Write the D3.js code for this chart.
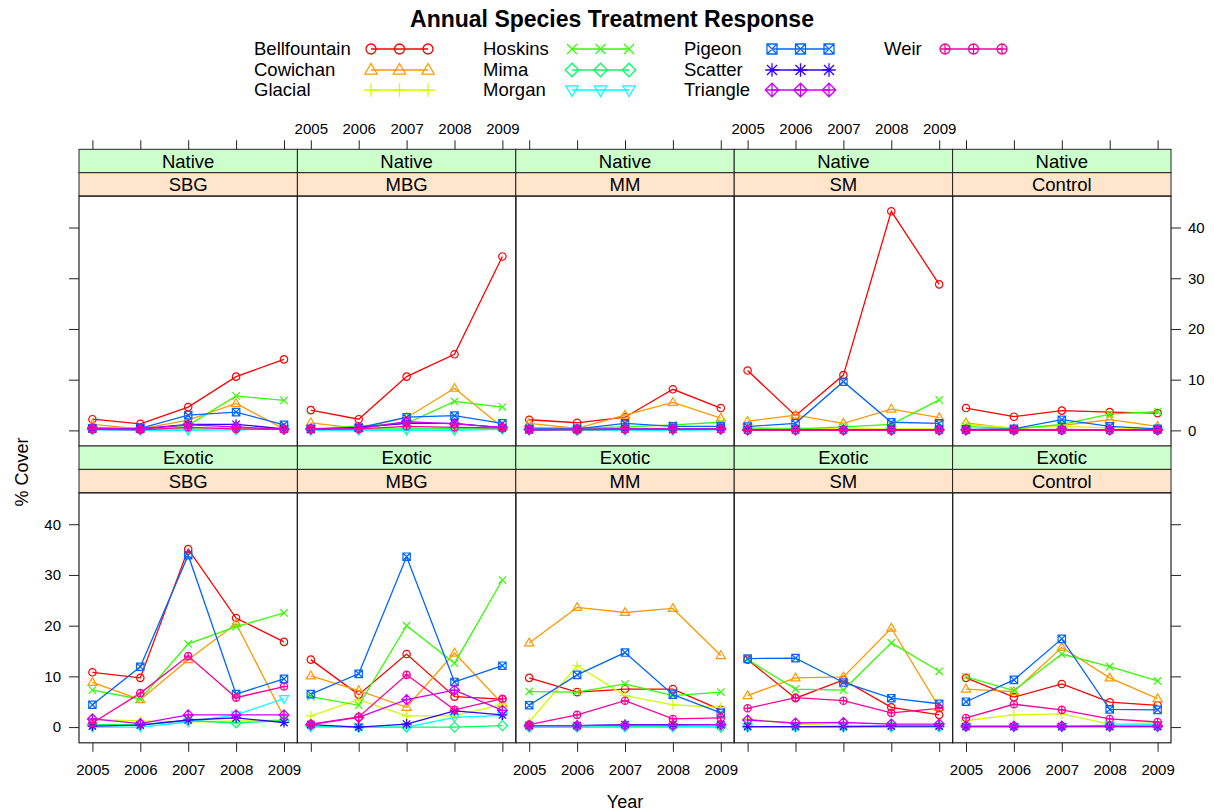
<!DOCTYPE html>
<html><head><meta charset="utf-8">
<script src="https://cdn.jsdelivr.net/npm/d3@7"></script>
<style>body{margin:0;background:#fff}svg{display:block}text{font-family:"Liberation Sans",Arial,sans-serif;fill:#000}</style>
</head><body>
<script>
const years = [2005, 2006, 2007, 2008, 2009];
const sites = ["Bellfountain","Cowichan","Glacial","Hoskins","Mima","Morgan","Pigeon","Scatter","Triangle","Weir"];
const treatments = ["SBG","MBG","MM","SM","Control"];
const origins = ["Native","Exotic"];
const yTicks = [0, 10, 20, 30, 40];
const colors = ["#FF0000","#FF9900","#CCFF00","#33FF00","#00FF66","#00FFFF","#0066FF","#3300FF","#CC00FF","#FF0099"];
const shapes = ["circle","triUp","plus","cross","diamond","triDown","squareX","asterisk","diamondPlus","circlePlus"];

// rows in site order, values by year
const native_SBG = [
 [2.2,1.3,4.6,10.6,14.0],[1.2,0.3,2.0,5.3,0.3],[0.6,0.4,0.6,0.5,0.3],[0.5,0.3,1.0,6.8,5.9],[0.2,0.2,0.3,0.2,0.3],
 [0.1,0.0,0.0,0.1,0.4],[0.4,0.4,3.0,3.6,1.1],[0.3,0.3,1.2,1.2,0.3],[0.4,0.3,1.1,0.7,0.2],[0.2,0.1,0.6,0.3,0.2]];
const native_MBG = [
 [4.0,2.2,10.6,15.0,34.3],[1.5,0.4,2.5,8.3,0.6],[0.3,0.3,0.5,0.4,0.3],[0.3,0.9,1.4,5.7,4.6],[0.2,0.2,0.3,0.3,0.3],
 [0.0,0.0,0.0,0.0,0.2],[0.3,0.5,2.6,2.9,1.4],[0.2,0.6,1.4,1.4,0.5],[0.3,0.4,1.7,1.3,0.6],[0.2,0.3,0.8,0.6,0.5]];
const native_MM = [
 [2.1,1.5,2.6,8.1,4.4],[1.4,0.4,3.0,5.5,2.4],[0.6,0.4,0.5,0.4,0.4],[0.5,0.5,0.7,1.1,1.6],[0.2,0.0,0.2,0.2,0.2],
 [0.0,0.1,0.0,0.0,0.1],[0.3,0.3,1.4,0.8,0.8],[0.1,0.2,0.3,0.2,0.3],[0.2,0.2,0.3,0.3,0.3],[0.1,0.1,0.2,0.2,0.2]];
const native_SM = [
 [11.8,2.9,10.9,43.2,28.8],[1.8,3.0,1.4,4.2,2.5],[0.6,0.4,0.3,0.3,0.3],[0.3,0.3,0.7,1.2,6.0],[0.1,0.1,0.1,0.1,0.1],
 [0.0,0.0,0.0,0.0,0.0],[0.75,1.4,9.6,1.6,1.4],[0.1,0.1,0.1,0.1,0.1],[0.1,0.1,0.1,0.1,0.1],[0.0,0.0,0.0,0.0,0.0]];
const native_Control = [
 [4.4,2.7,3.9,3.6,3.4],[1.5,0.3,1.0,2.1,0.8],[1.2,0.5,0.8,0.5,0.3],[0.8,0.3,1.2,3.2,3.7],[0.1,0.1,0.1,0.1,0.1],
 [0.0,0.0,0.0,0.0,0.0],[0.2,0.3,2.1,0.8,0.3],[0.1,0.1,0.1,0.1,0.1],[0.1,0.1,0.2,0.1,0.1],[0.0,0.0,0.0,0.0,0.0]];
const exotic_SBG = [
 [10.8,9.7,35.1,21.5,16.8],[8.8,5.4,13.3,20.4,2.0],[1.5,1.2,1.0,1.2,1.4],[7.3,5.5,16.4,19.8,22.5],[0.5,0.5,1.3,0.8,1.3],
 [0.0,0.0,1.0,2.4,5.6],[4.4,11.9,33.9,6.5,9.5],[0.2,0.4,1.4,1.8,0.9],[1.6,0.7,2.4,2.4,2.4],[0.8,6.7,14.0,5.8,8.0]];
const exotic_MBG = [
 [13.3,6.4,14.4,6.0,5.5],[10.1,7.2,3.9,14.6,4.6],[2.2,5.4,2.2,2.2,4.5],[6.0,4.3,20.0,12.6,29.0],[0.2,0.0,0.0,0.0,0.3],
 [0.0,0.0,0.0,1.9,2.3],[6.5,10.5,33.6,8.9,12.1],[0.5,0.0,0.6,3.2,2.4],[0.5,1.9,5.4,7.3,3.3],[0.6,2.0,10.3,3.4,5.6]];
const exotic_MM = [
 [9.7,6.9,7.5,7.5,3.4],[16.6,23.6,22.6,23.4,14.1],[1.0,12.1,6.2,4.4,3.9],[7.0,6.9,8.5,6.2,6.9],[0.0,0.0,0.1,0.1,0.0],
 [0.0,0.0,0.0,0.0,0.2],[4.3,10.3,14.7,6.4,2.8],[0.3,0.3,0.5,0.5,0.5],[0.3,0.3,0.4,0.4,0.5],[0.5,2.4,5.2,1.6,1.8]];
const exotic_SM = [
 [13.3,5.7,9.3,3.9,2.4],[6.2,9.7,9.9,19.5,3.9],[1.6,0.6,0.3,0.3,0.3],[13.3,7.5,7.3,16.6,11.0],[0.1,0.1,0.1,0.1,0.1],
 [0.0,0.0,0.0,0.0,0.0],[13.5,13.6,8.8,5.7,4.6],[0.1,0.1,0.1,0.2,0.2],[1.4,0.8,0.9,0.6,0.6],[3.7,5.8,5.2,2.8,3.7]];
const exotic_Control = [
 [9.7,5.9,8.5,4.9,4.3],[7.5,7.0,15.7,9.7,5.6],[1.3,2.4,2.6,0.6,0.8],[9.9,7.2,14.4,11.9,9.1],[0.1,0.1,0.1,0.1,0.1],
 [0.1,0.1,0.1,0.4,0.5],[5.0,9.3,17.4,3.5,3.4],[0.1,0.1,0.1,0.1,0.1],[0.2,0.2,0.2,0.2,0.2],[1.8,4.5,3.4,1.6,1.0]];

const panelData = {
  Native: [native_SBG, native_MBG, native_MM, native_SM, native_Control],
  Exotic: [exotic_SBG, exotic_MBG, exotic_MM, exotic_SM, exotic_Control]
};

const W = 1214, H = 812;
const svg = d3.select("body").append("svg").attr("width", W).attr("height", H);

const L = 79, R = 1171, colW = (R - L) / 5;
const stripH = 23.4, panelH = 250;
const rowTop = [149.3, 446];  // top of strips
const xDom = [2004.72, 2009.28], yDom = [-3.1, 46.2];

function symbolPath(shape, r) {
  const p = d3.path();
  const circ = (rr) => { p.moveTo(rr, 0); p.arc(0, 0, rr, 0, 2 * Math.PI); };
  const seg = (x1, y1, x2, y2) => { p.moveTo(x1, y1); p.lineTo(x2, y2); };
  const dia = r * 1.35;
  switch (shape) {
    case "circle": circ(r); break;
    case "triUp": { const a = r * 1.3; p.moveTo(0, -a); p.lineTo(a * 0.95, a * 0.62); p.lineTo(-a * 0.95, a * 0.62); p.closePath(); break; }
    case "triDown": { const a = r * 1.3; p.moveTo(0, a); p.lineTo(a * 0.95, -a * 0.62); p.lineTo(-a * 0.95, -a * 0.62); p.closePath(); break; }
    case "plus": seg(-dia, 0, dia, 0); seg(0, -dia, 0, dia); break;
    case "cross": seg(-r, -r, r, r); seg(-r, r, r, -r); break;
    case "diamond": p.moveTo(0, -dia); p.lineTo(dia, 0); p.lineTo(0, dia); p.lineTo(-dia, 0); p.closePath(); break;
    case "squareX": p.rect(-r, -r, 2 * r, 2 * r); seg(-r, -r, r, r); seg(-r, r, r, -r); break;
    case "asterisk": seg(-dia, 0, dia, 0); seg(0, -dia, 0, dia); seg(-r, -r, r, r); seg(-r, r, r, -r); break;
    case "diamondPlus": p.moveTo(0, -dia); p.lineTo(dia, 0); p.lineTo(0, dia); p.lineTo(-dia, 0); p.closePath(); seg(-dia, 0, dia, 0); seg(0, -dia, 0, dia); break;
    case "circlePlus": circ(r); seg(-r, 0, r, 0); seg(0, -r, 0, r); break;
  }
  return p.toString();
}

// Title
svg.append("text").attr("x", 612).attr("y", 27).attr("text-anchor", "middle")
  .style("font-size", "23px").style("font-weight", "bold").text("Annual Species Treatment Response");

// Legend
const legCols = [{tx: 254, sx: 371}, {tx: 483, sx: 572}, {tx: 684, sx: 772}, {tx: 884, sx: 945}];
const legRows = [49, 70, 90];
sites.forEach((s, i) => {
  const c = Math.floor(i / 3), r = i % 3;
  const col = legCols[c], y = legRows[r];
  const g = svg.append("g");
  g.append("text").attr("x", col.tx).attr("y", y).attr("dy", "0.35em").style("font-size", "18.5px").text(s);
  g.append("line").attr("x1", col.sx).attr("x2", col.sx + 57).attr("y1", y).attr("y2", y)
    .attr("stroke", colors[i]).attr("stroke-width", 1.3);
  [0, 28.5, 57].forEach(dx => {
    g.append("path").attr("d", symbolPath(shapes[i], 5)).attr("transform", `translate(${col.sx + dx},${y})`)
      .attr("fill", "none").attr("stroke", colors[i]).attr("stroke-width", 1.3);
  });
});

origins.forEach((orig, ri) => {
  const sTop = rowTop[ri];
  const pTop = sTop + 2 * stripH, pBot = pTop + panelH;
  const y = d3.scaleLinear().domain(yDom).range([pBot, pTop]);
  treatments.forEach((tr, ci) => {
    const x0 = L + ci * colW;
    const x = d3.scaleLinear().domain(xDom).range([x0, x0 + colW]);
    // strips
    svg.append("rect").attr("x", x0).attr("y", sTop).attr("width", colW).attr("height", stripH)
      .attr("fill", "#CCFFCC").attr("stroke", "#222").attr("stroke-width", 1);
    svg.append("text").attr("x", x0 + colW / 2).attr("y", sTop + stripH / 2).attr("dy", "0.36em")
      .attr("text-anchor", "middle").style("font-size", "18.5px").text(orig);
    svg.append("rect").attr("x", x0).attr("y", sTop + stripH).attr("width", colW).attr("height", stripH)
      .attr("fill", "#FFE5CC").attr("stroke", "#222").attr("stroke-width", 1);
    svg.append("text").attr("x", x0 + colW / 2).attr("y", sTop + 1.5 * stripH).attr("dy", "0.36em")
      .attr("text-anchor", "middle").style("font-size", "18.5px").text(tr);

    // panel
    const clipId = `clip${ri}_${ci}`;
    svg.append("clipPath").attr("id", clipId).append("rect").attr("x", x0).attr("y", pTop).attr("width", colW).attr("height", panelH);
    const pg = svg.append("g").attr("clip-path", `url(#${clipId})`);
    const rows = panelData[orig][ci];
    rows.forEach((vals, si) => {
      const pts = vals.map((v, k) => [x(years[k]), y(v)]);
      pg.append("path").attr("d", d3.line()(pts)).attr("fill", "none")
        .attr("stroke", colors[si]).attr("stroke-width", 1.3);
      pts.forEach(p => {
        pg.append("path").attr("d", symbolPath(shapes[si], 3.7)).attr("transform", `translate(${p[0]},${p[1]})`)
          .attr("fill", "none").attr("stroke", colors[si]).attr("stroke-width", 1.2);
      });
    });
    svg.append("rect").attr("x", x0).attr("y", pTop).attr("width", colW).attr("height", panelH)
      .attr("fill", "none").attr("stroke", "#222").attr("stroke-width", 1.2);

    // x axes
    if (ri === 0) {
      const ax = svg.append("g").attr("transform", `translate(0,${sTop})`)
        .call(d3.axisTop(x).tickValues(years).tickSize(9).tickSizeOuter(0).tickFormat(ci % 2 === 1 ? d3.format("d") : () => ""));
      ax.select(".domain").remove();
      ax.selectAll("line").attr("stroke", "#222");
      ax.selectAll("text").style("font-size", "15px").attr("y", -15);
    } else {
      const ax = svg.append("g").attr("transform", `translate(0,${pBot})`)
        .call(d3.axisBottom(x).tickValues(years).tickSize(9).tickSizeOuter(0).tickFormat(ci % 2 === 0 ? d3.format("d") : () => ""));
      ax.select(".domain").remove();
      ax.selectAll("line").attr("stroke", "#222");
      ax.selectAll("text").style("font-size", "15px").attr("y", 22);
    }
    // y axes
    if (ci === 0) {
      const ay = svg.append("g").attr("transform", `translate(${x0},0)`)
        .call(d3.axisLeft(y).tickValues(yTicks).tickSize(10).tickSizeOuter(0).tickFormat(ri === 1 ? d3.format("d") : () => ""));
      ay.select(".domain").remove();
      ay.selectAll("line").attr("stroke", "#222");
      ay.selectAll("text").style("font-size", "15px").attr("x", -18);
    }
    if (ci === 4) {
      const ay = svg.append("g").attr("transform", `translate(${x0 + colW},0)`)
        .call(d3.axisRight(y).tickValues(yTicks).tickSize(10).tickSizeOuter(0).tickFormat(ri === 0 ? d3.format("d") : () => ""));
      ay.select(".domain").remove();
      ay.selectAll("line").attr("stroke", "#222");
      ay.selectAll("text").style("font-size", "15px").attr("x", 17);
    }
  });
});

// axis titles
svg.append("text").attr("x", 625).attr("y", 808).attr("text-anchor", "middle").style("font-size", "18px").text("Year");
svg.append("text").attr("transform", "translate(28,472) rotate(-90)").attr("text-anchor", "middle").style("font-size", "18px").text("% Cover");
</script>
</body></html>
